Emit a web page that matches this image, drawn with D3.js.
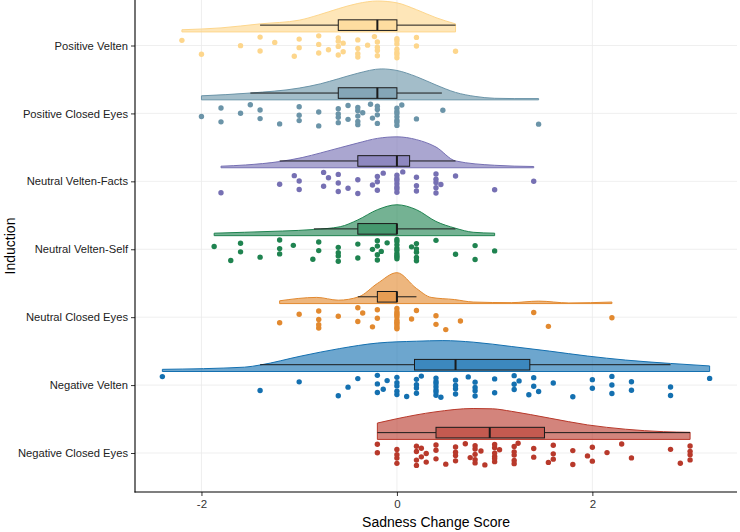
<!DOCTYPE html>
<html><head><meta charset="utf-8">
<script src="https://cdn.jsdelivr.net/npm/d3@7"></script>
<style>html,body{margin:0;padding:0;background:#fff;}svg{display:block;font-family:"Liberation Sans",Arial,sans-serif;}</style>
</head><body>
<script>
const categories = ["Positive Velten","Positive Closed Eyes","Neutral Velten-Facts","Neutral Velten-Self","Neutral Closed Eyes","Negative Velten","Negative Closed Eyes"];
const colors = ["#FDD68C","#6B94A8","#7670B3","#1F8350","#E2892F","#1470B0","#B8392B"];

// raw scores (rain)
const positiveVelten = [-2.2,-2.0,-1.6,-1.4,-1.4,-1.25,-1.05,-1.0,-1.0,-0.8,-0.8,-0.8,-0.7,-0.6,-0.6,-0.6,-0.6,-0.55,-0.55,-0.4,-0.4,-0.4,-0.4,-0.3,-0.23,-0.2,-0.2,-0.2,-0.2,0,0,0,0,0,0,0,0.2,0.2,0.6];
const positiveClosedEyes = [-2.0,-1.8,-1.8,-1.6,-1.5,-1.4,-1.4,-1.2,-1.0,-1.0,-1.0,-0.8,-0.8,-0.6,-0.6,-0.6,-0.6,-0.5,-0.5,-0.4,-0.4,-0.4,-0.4,-0.4,-0.35,-0.27,-0.25,-0.2,-0.2,-0.2,-0.2,0,0,0,0,0,0,0,0.05,0.2,0.47,1.45];
const neutralVeltenFacts = [-1.8,-1.2,-1.05,-1.0,-1.0,-0.75,-0.75,-0.7,-0.6,-0.6,-0.6,-0.5,-0.4,-0.4,-0.25,-0.2,-0.2,-0.2,-0.14,0,0,0,0,0,0,0,0.06,0.2,0.2,0.2,0.4,0.4,0.4,0.4,0.4,0.45,0.6,1.0,1.4];
const neutralVeltenSelf = [-1.87,-1.7,-1.6,-1.6,-1.4,-1.2,-1.2,-1.2,-1.06,-0.86,-0.8,-0.8,-0.6,-0.6,-0.6,-0.6,-0.4,-0.4,-0.25,-0.2,-0.2,-0.2,-0.2,-0.16,-0.1,0,0,0,0,0,0,0,0,0,0.15,0.2,0.2,0.2,0.2,0.2,0.4,0.6,0.8,0.8,1.0];
const neutralClosedEyes = [-1.2,-1.0,-0.8,-0.8,-0.8,-0.8,-0.6,-0.4,-0.4,-0.35,-0.25,-0.2,-0.2,0,0,0,0,0,0,0,0,0,0,0,0.15,0.2,0.4,0.4,0.5,0.65,1.4,1.55,2.2];
const negativeVelten = [-2.4,-1.4,-1.0,-0.6,-0.5,-0.4,-0.2,-0.2,-0.2,-0.14,-0.1,0,0,0,0,0,0.1,0.2,0.2,0.2,0.2,0.25,0.4,0.4,0.4,0.4,0.4,0.4,0.4,0.45,0.6,0.6,0.6,0.6,0.73,0.8,0.8,0.8,0.8,1.0,1.0,1.2,1.2,1.2,1.25,1.35,1.4,1.4,1.45,1.6,1.8,2.0,2.0,2.2,2.2,2.2,2.4,2.4,2.8,2.8,3.2];
const negativeClosedEyes = [-0.2,-0.2,0,0,0,0,0.2,0.2,0.2,0.2,0.25,0.25,0.3,0.3,0.4,0.4,0.4,0.5,0.6,0.6,0.6,0.6,0.7,0.75,0.8,0.8,0.8,0.8,0.8,0.86,0.9,1.0,1.0,1.0,1.0,1.0,1.0,1.05,1.2,1.2,1.2,1.2,1.2,1.24,1.4,1.4,1.55,1.6,1.6,1.6,1.8,1.8,1.95,2.0,2.0,2.15,2.3,2.4,2.8,2.9,3.0,3.0,3.0,3.0];
const rain = [positiveVelten,positiveClosedEyes,neutralVeltenFacts,neutralVeltenSelf,neutralClosedEyes,negativeVelten,negativeClosedEyes];

// cloud (density) profiles: x values and relative heights
const cloudX = [
  [-2.2,-1.8,-1.4,-1.0,-0.8,-0.6,-0.4,-0.2,0,0.2,0.4,0.6],
  [-2.0,-1.5,-1.0,-0.78,-0.6,-0.4,-0.16,0,0.2,0.4,0.6,0.8,1.0,1.2,1.45],
  [-1.8,-1.55,-1.2,-0.97,-0.78,-0.58,-0.4,-0.2,0,0.2,0.4,0.6,1.0,1.4],
  [-1.87,-1.56,-1.17,-0.85,-0.58,-0.4,-0.2,0,0.2,0.4,0.6,0.78,1.0],
  [-1.2,-0.82,-0.6,-0.39,-0.2,0,0.2,0.35,0.59,0.78,1.17,1.45,1.76,2.2],
  [-2.4,-1.56,-1.4,-0.98,-0.59,-0.2,0.2,0.47,0.78,1.17,1.56,1.95,2.34,2.8,3.2],
  [-0.2,0,0.39,0.78,0.98,1.17,1.56,1.95,2.34,2.73,3.0]
];
const cloudH = [
  [0.07,0.13,0.26,0.38,0.55,0.75,0.92,1.0,0.94,0.72,0.46,0.26],
  [0.13,0.22,0.38,0.52,0.68,0.86,1.0,0.95,0.75,0.48,0.24,0.11,0.05,0.04,0.04],
  [0.05,0.09,0.2,0.33,0.48,0.65,0.8,0.95,1.0,0.91,0.67,0.22,0.08,0.04],
  [0.08,0.11,0.15,0.2,0.29,0.51,0.84,1.0,0.84,0.46,0.24,0.11,0.08],
  [0.09,0.2,0.11,0.22,0.65,1.0,0.49,0.2,0.13,0.05,0.03,0.08,0.02,0.05],
  [0.07,0.14,0.21,0.5,0.74,0.92,0.98,1.0,0.95,0.81,0.66,0.5,0.37,0.26,0.18],
  [0.53,0.67,0.89,1.0,0.99,0.91,0.69,0.47,0.33,0.25,0.23]
];

// boxplot statistics
const boxQ1 = [-0.6,-0.6,-0.4,-0.4,-0.2,0.18,0.4];
const boxMedian = [-0.2,-0.2,0,0,0,0.6,0.95];
const boxQ3 = [0,0,0.13,0,0,1.36,1.51];
const whiskerLow = [-1.4,-1.5,-1.2,-0.85,-0.4,-1.4,-0.2];
const whiskerHigh = [0.6,0.46,0.6,0.6,0.2,2.8,3.0];

const xTicks = [-2,0,2];
const xTitle = "Sadness Change Score";
const yTitle = "Induction";

const W = 740, H = 532;
const L = 135, R = 737, T = 0, B = 492;
const svg = d3.select("body").append("svg").attr("width",W).attr("height",H);

const x = d3.scaleLinear().domain([-2.68,3.48]).range([L,R]);
const y = d3.scalePoint().domain(categories).range([45.5,453]);
const step = y.step();
const cloudBase = -0.2*step, cloudMax = 0.455*step;
const boxC = -0.3*step, boxHalf = 0.078*step;
const jitterW = 0.165*step, jitterC = 0.02*step;

// grid
const grid = svg.append("g");
grid.selectAll("line.v").data(xTicks).join("line")
  .attr("x1",d=>x(d)).attr("x2",d=>x(d)).attr("y1",T).attr("y2",B)
  .attr("stroke","#ebebeb").attr("stroke-width",0.8);
grid.selectAll("line.h").data(categories).join("line")
  .attr("x1",L).attr("x2",R).attr("y1",d=>y(d)).attr("y2",d=>y(d))
  .attr("stroke","#ebebeb").attr("stroke-width",0.8);

categories.forEach((cat,i)=>{
  const cy = y(cat);
  const col = colors[i];
  const g = svg.append("g");
  // cloud
  const prof = cloudX[i].map((v,k)=>({v,h:cloudH[i][k]}));
  const area = d3.area()
    .x(d=>x(d.v)).y0(cy+cloudBase).y1(d=>cy+cloudBase-d.h*cloudMax)
    .curve(d3.curveMonotoneX);
  g.append("path").datum(prof).attr("d",area)
    .attr("fill",col).attr("fill-opacity",0.62).attr("stroke","none");
  const line = d3.line().x(d=>x(d.v)).y(d=>cy+cloudBase-d.h*cloudMax).curve(d3.curveMonotoneX);
  g.append("path").datum(prof).attr("d",line).attr("fill","none").attr("stroke",col).attr("stroke-width",1);
  g.append("path").attr("d",
    `M${x(prof[0].v)},${cy+cloudBase-prof[0].h*cloudMax}V${cy+cloudBase}H${x(prof[prof.length-1].v)}V${cy+cloudBase-prof[prof.length-1].h*cloudMax}`)
    .attr("fill","none").attr("stroke",col).attr("stroke-width",1);
  // rain
  g.selectAll("circle").data(rain[i]).join("circle")
    .attr("cx",d=>x(d))
    .attr("cy",(d,k)=>{const f=((k*0.6180339887+0.37*i+0.21)%1); return cy + jitterC + (f*2-1)*jitterW;})
    .attr("r",2.7).attr("fill",col);
  // box
  g.append("line").attr("x1",x(whiskerLow[i])).attr("x2",x(boxQ1[i]))
    .attr("y1",cy+boxC).attr("y2",cy+boxC).attr("stroke","#1a1a1a").attr("stroke-width",1);
  g.append("line").attr("x1",x(boxQ3[i])).attr("x2",x(whiskerHigh[i]))
    .attr("y1",cy+boxC).attr("y2",cy+boxC).attr("stroke","#1a1a1a").attr("stroke-width",1);
  g.append("rect").attr("x",x(boxQ1[i])).attr("width",Math.max(0,x(boxQ3[i])-x(boxQ1[i])))
    .attr("y",cy+boxC-boxHalf).attr("height",2*boxHalf)
    .attr("fill",col).attr("fill-opacity",0.55).attr("stroke","#1a1a1a").attr("stroke-width",1);
  g.append("line").attr("x1",x(boxMedian[i])).attr("x2",x(boxMedian[i]))
    .attr("y1",cy+boxC-boxHalf).attr("y2",cy+boxC+boxHalf).attr("stroke","#1a1a1a").attr("stroke-width",2);
});

// axes
const xa = svg.append("g").attr("transform",`translate(0,${B})`)
  .call(d3.axisBottom(x).tickValues(xTicks).tickSize(4).tickPadding(4).tickFormat(d3.format("d")));
xa.select(".domain").remove();
xa.selectAll("line").attr("stroke","#333");
xa.selectAll("text").attr("font-size",11.5).attr("fill","#333").attr("font-family","Liberation Sans, Arial, sans-serif").text(d=>String(d));
const ya = svg.append("g").attr("transform",`translate(${L},0)`)
  .call(d3.axisLeft(y).tickSize(4).tickPadding(3));
ya.select(".domain").remove();
ya.selectAll("line").attr("stroke","#333");
ya.selectAll("text").attr("font-size",11.2).attr("fill","#222").attr("font-family","Liberation Sans, Arial, sans-serif");

svg.append("line").attr("x1",L).attr("x2",L).attr("y1",T).attr("y2",B+0.5).attr("stroke","#000").attr("stroke-width",1.1);
svg.append("line").attr("x1",L-0.5).attr("x2",R).attr("y1",B).attr("y2",B).attr("stroke","#000").attr("stroke-width",1.1);

svg.append("text").attr("x",(L+R)/2).attr("y",527).attr("text-anchor","middle")
  .attr("font-size",14).attr("fill","#000").text(xTitle);
svg.append("text").attr("transform",`translate(15,${(T+B)/2}) rotate(-90)`).attr("text-anchor","middle")
  .attr("font-size",14).attr("fill","#000").text(yTitle);
</script>
</body></html>
